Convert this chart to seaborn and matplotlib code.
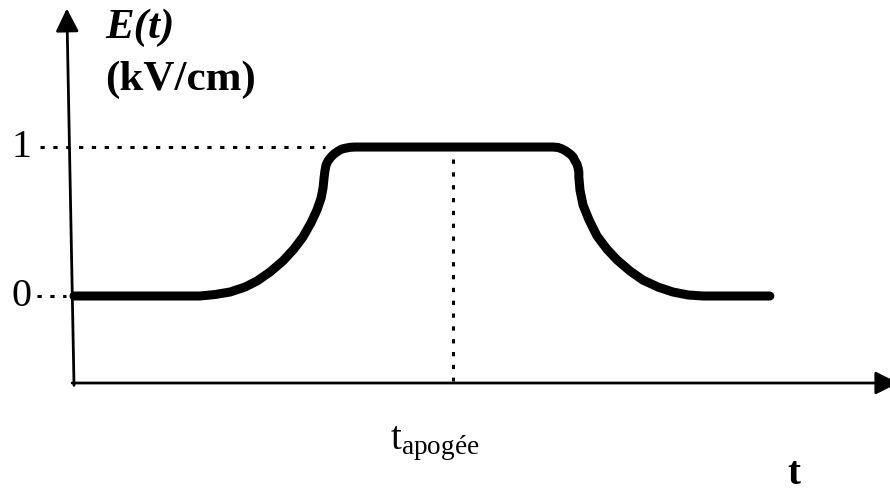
import matplotlib
matplotlib.use("Agg")
import matplotlib.pyplot as plt
import seaborn as sns
import pandas as pd

# ---- data ----
t_values = [0.0, 3.32, 3.72, 4.12, 4.51, 4.83, 5.17, 5.51, 5.80, 6.04, 6.25, 6.41,
            6.52, 6.57, 6.60, 6.62, 6.65, 6.70, 6.78, 6.86, 6.97, 7.07, 7.18, 7.28, 7.41,
            12.64, 12.77, 12.88, 12.98, 13.09, 13.17, 13.22, 13.27, 13.30, 13.32, 13.32,
            13.35, 13.43, 13.59, 13.80,
            14.06, 14.33, 14.67, 15.01, 15.41, 15.80, 16.20, 16.60, 18.36]
E_values = [0.0, 0.0, 0.01, 0.027, 0.060, 0.101, 0.161, 0.235, 0.315, 0.396, 0.490, 0.577,
            0.658, 0.725, 0.799, 0.839, 0.879, 0.906, 0.933, 0.953, 0.973, 0.987, 0.993, 0.998, 1.0,
            1.0, 0.997, 0.987, 0.973, 0.953, 0.933, 0.906, 0.886, 0.859, 0.832, 0.799,
            0.711, 0.611, 0.510, 0.403,
            0.315, 0.242, 0.168, 0.107, 0.060, 0.027, 0.007, 0.0, 0.0]
t_apogee = 10.0
tick_values = [0, 1]
tick_labels = ["0", "1"]
ylabel_line1 = "E(t)"
ylabel_line2 = "(kV/cm)"
xlabel = "t"
apogee_label = r"$\mathrm{t}_{\mathrm{apogée}}$"

df = pd.DataFrame({"t": t_values, "E": E_values})

sns.set_theme(style="white")
plt.rcParams["font.family"] = ["Liberation Serif", "DejaVu Serif"]
plt.rcParams["mathtext.fontset"] = "custom"
plt.rcParams["mathtext.rm"] = "Liberation Serif"
plt.rcParams["mathtext.it"] = "Liberation Serif:italic"
plt.rcParams["mathtext.bf"] = "Liberation Serif:bold"

fig = plt.figure(figsize=(8.90, 4.94), dpi=100)
ax = fig.add_axes([0, 0, 1, 1])
ax.set_xlim(-1.953, 21.53)
ax.set_ylim(-1.329, 1.987)
ax.axis("off")

# main curve
sns.lineplot(data=df, x="t", y="E", sort=False, estimator=None, ax=ax,
             color="black", linewidth=6.5, solid_capstyle="round",
             solid_joinstyle="round")

# guide dotted lines
dot = dict(color="black", linewidth=2.2, linestyle=(0, (1.4, 2.8)))
ax.plot([-0.90, 6.62], [1, 1], **dot)
ax.plot([-0.98, -0.20], [0, 0], **dot)
ax.plot([t_apogee, t_apogee], [0.92, -0.57], **dot)

# axes with arrows
arrow_style = "-|>,head_length=1.4,head_width=0.7"
ax.annotate("", xy=(-0.19, 1.93), xytext=(0.0, -0.60), annotation_clip=False,
            arrowprops=dict(arrowstyle=arrow_style, mutation_scale=10,
                            color="black", lw=2.0, shrinkA=0, shrinkB=0))
ax.annotate("", xy=(21.75, -0.584), xytext=(-0.05, -0.584), annotation_clip=False,
            arrowprops=dict(arrowstyle=arrow_style, mutation_scale=10,
                            color="black", lw=2.0, shrinkA=0, shrinkB=0))

# tick labels
for v, lab in zip(tick_values, tick_labels):
    ax.text(-1.12, v, lab, ha="right", va="center", fontsize=29, color="black")

# axis labels
ax.text(0.82, 1.80, ylabel_line1, ha="left", va="center", fontsize=31,
        fontweight="bold", fontstyle="italic", color="black")
ax.text(0.82, 1.45, ylabel_line2, ha="left", va="center", fontsize=31,
        fontweight="bold", color="black")
ax.text(8.34, -0.99, apogee_label, ha="left", va="center", fontsize=28, color="black")
ax.text(19.0, -1.20, xlabel, ha="center", va="center", fontsize=28,
        fontweight="bold", color="black")

fig.savefig("out.png", dpi=100, facecolor="white")
